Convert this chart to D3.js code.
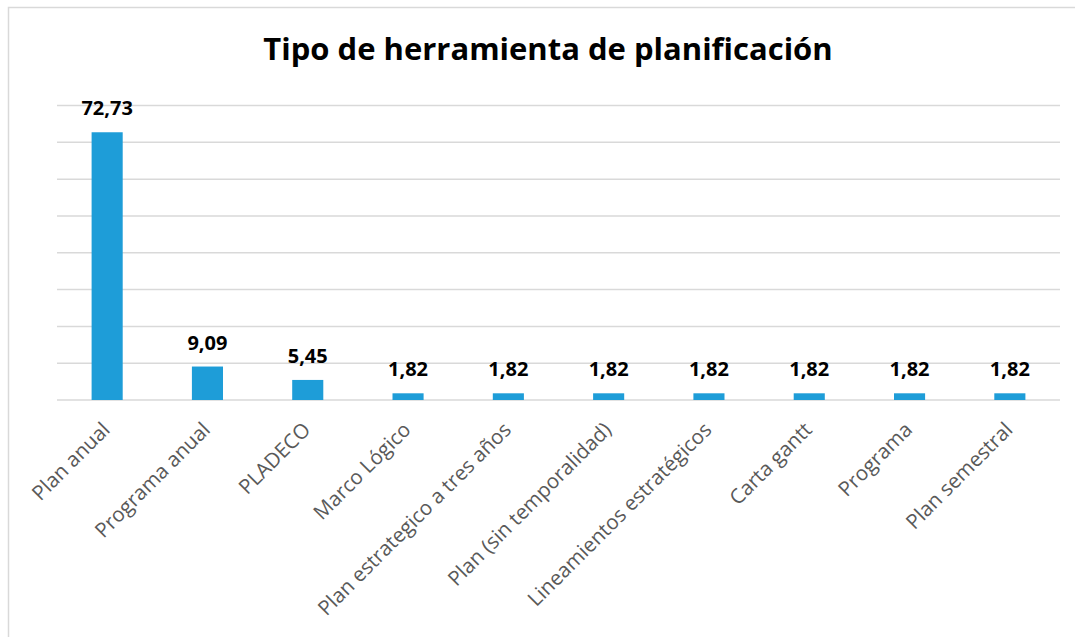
<!DOCTYPE html>
<html>
<head>
<meta charset="utf-8">
<script src="https://cdn.jsdelivr.net/npm/d3@7"></script>
<style>
  body { margin: 0; background: #fff; }
</style>
</head>
<body>
<div id="chart"></div>
<script>
let categories = ["Plan anual", "Programa anual", "PLADECO", "Marco Lógico",
  "Plan estrategico a tres años", "Plan (sin temporalidad)",
  "Lineamientos estratégicos", "Carta gantt", "Programa", "Plan semestral"]
let values = [72.73, 9.09, 5.45, 1.82, 1.82, 1.82, 1.82, 1.82, 1.82, 1.82]
let gridTicks = [0, 10, 20, 30, 40, 50, 60, 70, 80]

let width = 1075, height = 637

let svg = d3.select("#chart")
  .append("svg")
  .attr("width", width)
  .attr("height", height)

// outer chart border (runs off the right and bottom)
svg.append("rect")
  .attr("x", 8.5).attr("y", 7.5)
  .attr("width", 1100).attr("height", 700)
  .attr("fill", "none")
  .attr("stroke", "#d9d9d9")
  .attr("stroke-width", 1.5)

svg.append("text")
  .attr("x", 548).attr("y", 60)
  .attr("text-anchor", "middle")
  .style("font-family", "'Open Sans', sans-serif")
  .style("font-weight", "bold")
  .style("font-size", "31px")
  .text("Tipo de herramienta de planificación")

let xScale = d3.scaleBand()
  .domain(categories)
  .range([57, 1060])
  .paddingInner(0.69)
  .paddingOuter(0.345)

let yScale = d3.scaleLinear()
  .domain([0, 80])
  .range([400, 105.5])

// gridlines
svg.append("g")
  .selectAll("line")
  .data(gridTicks)
  .enter()
  .append("line")
    .attr("x1", 57).attr("x2", 1060)
    .attr("y1", d => yScale(d)).attr("y2", d => yScale(d))
    .attr("stroke", "#d9d9d9")
    .attr("stroke-width", 1.5)

let data = categories.map((c, i) => ({ cat: c, val: values[i] }))

svg.append("g")
  .selectAll("rect")
  .data(data)
  .enter()
  .append("rect")
    .attr("x", d => xScale(d.cat))
    .attr("y", d => yScale(d.val))
    .attr("width", xScale.bandwidth())
    .attr("height", d => yScale(0) - yScale(d.val))
    .attr("fill", "#1e9dd8")

// value labels
svg.append("g")
  .selectAll("text")
  .data(data)
  .enter()
  .append("text")
    .attr("x", d => xScale(d.cat) + xScale.bandwidth() / 2)
    .attr("y", d => yScale(d.val) - 17)
    .attr("text-anchor", "middle")
    .style("font-family", "'Open Sans', sans-serif")
    .style("font-weight", "bold")
    .style("font-size", "20px")
    .text(d => d3.format(".2f")(d.val).replace(".", ","))

// category labels, rotated
svg.append("g")
  .selectAll("text")
  .data(data)
  .enter()
  .append("text")
    .attr("transform", d => "translate(" + (xScale(d.cat) + xScale.bandwidth() / 2 + 4) + ",431) rotate(-45)")
    .attr("text-anchor", "end")
    .style("font-family", "'Open Sans', sans-serif")
    .style("font-size", "20.5px")
    .style("fill", "#595959")
    .text(d => d.cat)
</script>
</body>
</html>
